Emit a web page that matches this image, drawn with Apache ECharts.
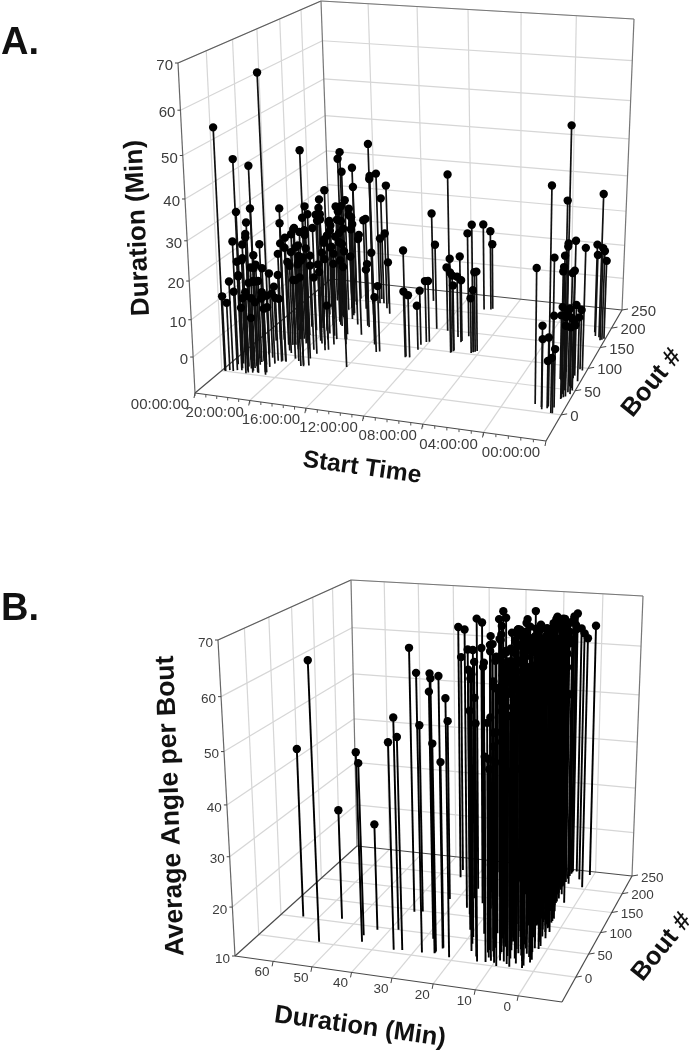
<!DOCTYPE html>
<html>
<head>
<meta charset="utf-8">
<title>Bout plots</title>
<script src="https://cdn.jsdelivr.net/npm/echarts@6/dist/echarts.min.js"></script>
<style>
  html, body { margin: 0; padding: 0; background: #fff; }
  #chart { width: 689px; height: 1050px; }
</style>
</head>
<body>
<div id="chart"></div>
<script>
// panel A: start time (h), bout number, duration (min)
const startHoursA = [
  23.8,22.2,23.4,22.1,18.6,19.8,17.9,15.6,18.2,19.8,
  17.8,15.9,18.2,18.2,16.7,19.5,18.6,23.3,21.5,22.4,
  20.4,20.5,20.6,19,20.1,19.4,17.6,20.6,17.9,22.9,
  22.2,23.4,22.1,21,22.2,23.6,22.2,20.7,21.5,21.6,
  22,22.3,19.1,20.6,20.7,19.3,21.2,19.9,21,16,
  19.2,20,17.2,18.4,17.3,18.7,12.7,23.4,22.7,23.2,
  23.7,23.5,22,21.9,21.8,22,22.2,21.9,20.9,22.5,
  22.7,21,20.7,21.2,21.1,19,21,18.9,18.4,21.4,
  20,20.3,18.6,20,18.7,19.4,20,19.9,21.4,19.2,
  21.6,19,20,20.7,20.2,20.8,20.7,17.2,17.4,17.5,
  14.8,15,12.7,12.4,12.3,12.4,12.2,12,14.4,12.3,
  9.9,11.3,9.8,11.4,9.9,9.8,10.3,9.8,9.6,8.4,
  10.1,9.6,9.5,8.3,8.2,8.4,8.5,9.8,2,1.5,
  1.4,1.1,1.1,0.7,0.6,1.4,0.7,1.1,0.4,0.5,
  0.5,1.1,1.4,0.2,0.3,1,0.3,0.2,1.6,0.7,
  1.3,0.6,0.5,0.3,0.8,0.1,0.6,0.4,0.6,0.5,
  0.9,0.2,0.2,0.7,0.6,0.7,1.3,0.6,
  23,22.8,22.5,22.3,22,21.7,21.5,21.2,22.6,23.1,
  22.4,21.9,21.4,21.1,20.8,23.2,22.9,22.1,21.6,21,
  21,20.5,20,19.6,19,20.8,21.3,20.4,19.7,21,
  20.5,20,19.3,21.5,19,18.5,18,18.4,19.8,20.4,
  21.8,21,20.2,19.4,18.8,19.9,19.2,20.9,18.9,19.6
];
const boutsA = [
  1,50,25,22,33,152,100,96,112,187,
  167,107,198,138,174,109,70,24,6,20,
  35,37,88,82,157,133,89,200,199,30,
  12,17,3,8,26,38,82,36,72,90,
  108,128,30,92,113,84,168,130,185,40,
  160,205,115,210,187,195,78,25,6,2,
  0,3,14,22,4,28,1,30,8,82,
  78,35,34,73,88,33,74,30,72,153,
  118,144,98,155,126,68,102,178,124,95,
  193,48,44,55,110,162,183,135,138,200,
  82,80,76,77,96,108,116,117,220,150,
  98,154,125,148,100,102,136,128,141,105,
  212,214,216,107,109,106,103,104,14,10,
  6,11,9,1,1,70,12,13,36,34,
  174,73,91,50,94,185,167,169,52,40,
  68,32,57,54,176,172,30,45,81,96,
  59,42,70,48,62,84,87,75,
  5,10,15,7,18,12,24,15,28,20,
  35,8,5,20,3,32,42,46,40,28,
  60,65,75,90,105,100,120,120,140,140,
  170,172,165,175,150,120,100,85,55,80,
  110,155,195,205,180,115,130,90,60,40
];
const durationsA = [
  53,63,44,43,47,36,42,45,36,31,
  30,36,29,30,28,31,32,31,34,29,
  32,28,25,27,21,21,29,18,22,25,
  26,24,25,25,20,17,18,20,18,20,
  20,17,23,20,20,25,17,18,12,24,
  16,10,18,9,13,6,20,14,20,15,
  11,9,18,18,15,13,11,8,8,9,
  6,8,8,13,12,19,9,15,3,9,
  11,12,15,7,13,17,11,6,8,19,
  10,21,20,16,8,5,2,9,7,3,
  9,6,9,8,3,6,8,8,17,15,
  39,11,15,9,13,12,8,8,20,26,
  16,14,10,13,13,8,6,9,26,12,
  9,9,3,5,16,8,6,46,58,41,
  31,26,25,30,24,16,17,16,25,27,
  20,25,21,22,14,13,15,13,10,7,
  9,11,8,8,6,4,7,6,
  12,16,10,21,14,9,17,11,8,6,
  12,5,19,7,13,9,11,7,14,10,
  22,24,23,26,22,27,23,25,24,20,
  20,23,19,16,21,20,24,18,18,15,
  15,14,14,15,17,16,15,13,12,13
];

// panel B: duration (min), bout number, average angle
const durationsB = [
  64,54,54,43,44,45,35,38,33,38,
  28,25,25,24,28,21,32,36,25,24,
  34,35,26,27,28,25,25,22,22,17,
  17,18,17,15,12,8,9,5,6,3,
  1,1,24,26,23,22,21,18,17,19,
  18,17,15,14,22,23,21,19,20,16,
  16,16,13,16,14,13,10,9,3,11,
  12,6,10,3,8,12,4,7,2,10,
  5,13,3,8,6,11,2,9,4,14,
  7,3,10,5,12,2,8,4,11,6,
  14,2,9,5,12,3,7,10,4,13,
  3,8,5,11,3,7,14,5,4,9,
  12,4,7,5,10,6,13,5,8,5,
  11,7,6,10,5,8,13,7,6,11,
  6,8,14,6,9,7,7,11,6,7,
  9,14,6,8,11,8,7,13,9,6,
  15,8,12,6,
  18,14,20,10,16,12,19,8,15,21,
  10,17,13,20,9,16,12,19,10,15,
  18,9,13,20,11,16,10,19,7,14,
  18,10,12,16,8,11,19,14,9,17,
  6,14,9,17,5,11,15,3,8,13,
  6,18,10,4,12,16,7,20,9,14,
  6,11,17,8,13,5,10,
  9,3,12,7,5,9,2,11,6,4,
  8,13,3,10,6,4,9,12,3,7,
  10,5,13,3,8,11,6,2,9,5,
  12,7,4,10,3,8,14,5,11,3,
  7,13,4,9,6,11,3,7,13,5,
  9,3,11,6,15,
  7,5,9,6,8,7,10,6,8,7,
  9,6,8,7,10,5,8,6,9,5,
  7,10,6,8,5,9,7,5,6,9,
  7,4,8,4,6
];
const boutsB = [
  52,2,58,44,14,28,6,50,8,95,
  8,10,12,22,40,6,136,98,14,24,
  195,215,120,170,200,220,235,205,190,245,
  210,228,180,195,215,190,240,210,245,225,
  205,240,105,145,135,100,70,80,65,55,
  40,25,15,5,150,165,175,185,125,115,
  140,90,75,155,170,200,180,222,160,10,
  30,3,7,9,12,16,18,20,23,27,
  29,32,35,37,42,44,47,50,52,57,
  59,62,64,67,69,72,74,77,79,82,
  84,87,89,92,94,97,99,102,104,107,
  109,112,114,117,119,122,124,127,129,132,
  134,137,139,142,144,147,149,152,154,157,
  159,162,164,167,169,172,174,177,179,182,
  184,187,189,192,194,197,199,202,204,207,
  209,212,214,217,219,221,224,226,229,231,
  234,237,239,242,
  151,153,156,158,161,163,166,168,171,173,
  176,178,181,183,186,188,191,193,196,198,
  201,203,206,208,211,213,216,218,220,223,
  225,227,230,232,233,236,238,241,243,244,
  101,103,105,106,108,110,111,113,116,118,
  120,121,123,126,128,130,131,133,135,136,
  138,140,141,143,145,146,148,
  1,4,6,8,11,13,17,19,21,22,
  24,26,28,31,33,34,36,38,39,41,
  43,45,46,48,49,51,53,54,56,58,
  60,61,63,65,66,68,70,71,73,75,
  76,78,80,81,83,85,86,88,90,91,
  93,95,96,98,100,
  247,246,249,238,235,228,225,223,219,213,
  208,201,196,191,186,181,176,171,166,161,
  156,151,146,141,136,131,126,121,116,111,
  106,101,96,91,86
];
const anglesB = [
  45,65,33,32,48,45,51,53,52,64,
  64,64,63,63,59,60,48,49,51,47,
  64,57,67,67,65,65,66,66,65,66,
  65,65,65,65,64,66,65,66,66,63,
  63,64,64,62,63,62,62,63,63,62,
  62,57,60,56,63,64,64,64,63,63,
  63,63,62,64,64,64,64,64,65,57,
  43,58,52,60,62,49,57,63,55,60,
  62,46,59,64,53,61,58,63,50,60,
  64,57,61,44,63,60,55,64,59,62,
  48,60,64,56,62,63,52,65,60,57,
  64,61,47,63,59,65,54,62,64,60,
  65,58,63,50,64,61,66,60,63,56,
  65,60,64,52,62,66,61,58,64,60,
  65,55,63,61,66,59,64,62,57,65,
  60,64,51,66,62,60,65,58,63,66,
  61,64,57,63,
  62,58,64,60,63,55,61,64,60,63,
  58,65,62,57,64,61,65,60,63,56,
  64,62,65,59,63,60,65,62,59,64,
  61,65,60,63,58,65,62,60,64,61,
  63,60,57,63,61,65,59,62,64,60,
  63,56,65,60,63,61,58,64,62,66,
  60,63,57,65,61,64,59,
  55,60,50,62,48,60,52,63,58,45,
  61,55,62,57,63,54,60,47,62,58,
  63,60,52,62,56,63,61,58,63,50,
  62,60,63,56,61,64,59,62,64,57,
  63,60,64,58,63,60,64,55,63,61,
  64,58,63,60,64,
  65,63,61,64,60,63,66,61,65,60,
  66,63,60,66,62,65,60,64,66,61,
  65,60,66,62,64,60,65,62,66,60,
  64,61,65,62,60
];

// tick values and labels
const timeTicks = [24, 20, 16, 12, 8, 4, 0];
const timeLabels = ['00:00:00', '20:00:00', '16:00:00', '12:00:00', '08:00:00', '04:00:00', '00:00:00'];
const boutTicks = [0, 50, 100, 150, 200, 250];
const durationTicksA = [0, 10, 20, 30, 40, 50, 60, 70];
const durationTicksB = [60, 50, 40, 30, 20, 10, 0];
const angleTicks = [10, 20, 30, 40, 50, 60, 70];

// unit square to quad, corners in order (0,0) (1,0) (1,1) (0,1)
function quadMap(q) {
  const [p0, p1, p2, p3] = q;
  const dx1 = p1[0] - p2[0], dx2 = p3[0] - p2[0], sx = p0[0] - p1[0] + p2[0] - p3[0];
  const dy1 = p1[1] - p2[1], dy2 = p3[1] - p2[1], sy = p0[1] - p1[1] + p2[1] - p3[1];
  const den = dx1 * dy2 - dx2 * dy1;
  const g = (sx * dy2 - dx2 * sy) / den;
  const h = (dx1 * sy - sx * dy1) / den;
  const a = p1[0] - p0[0] + g * p1[0], b = p3[0] - p0[0] + h * p3[0];
  const d = p1[1] - p0[1] + g * p1[1], e = p3[1] - p0[1] + h * p3[1];
  return (u, v) => {
    const w = g * u + h * v + 1;
    return [(a * u + b * v + p0[0]) / w, (d * u + e * v + p0[1]) / w];
  };
}

function buildPanel(cfg, idx) {
  const floorMap = quadMap(cfg.floor);
  const topMap = quadMap(cfg.top);
  const zr = cfg.zRange, k = cfg.zPersp;

  // x and bout go through the hidden cartesian axes, height through linearMap
  function project(api, cs, x, bout, z) {
    const p = api.coord([x, bout]);
    const u = (p[0] - cs.x) / cs.width;
    const v = 1 - (p[1] - cs.y) / cs.height;
    const w0 = echarts.number.linearMap(z, zr, [0, 1], false);
    const w = w0 * (1 + k) / (1 + k * w0);
    const f = floorMap(u, v), t = topMap(u, v);
    return [f[0] + (t[0] - f[0]) * w, f[1] + (t[1] - f[1]) * w];
  }

  function seg(a, b, color, width) {
    return {
      type: 'line',
      shape: { x1: a[0], y1: a[1], x2: b[0], y2: b[1] },
      style: { stroke: color, lineWidth: width }
    };
  }
  function label(p, text, align) {
    return {
      type: 'text',
      style: { x: p[0], y: p[1], text: text, fill: '#3c3c3c', font: cfg.tickFont, align: align, verticalAlign: 'middle' }
    };
  }

  const renderFrame = (params, api) => {
    const cs = params.coordSys;
    const P = (x, b, z) => project(api, cs, x, b, z);
    const [x0, x1] = cfg.xExtent, [b0, b1] = [-50, 250], [z0, z1] = zr;
    const kids = [];
    const grid = '#d6d6d6';
    // walls and floor
    cfg.zTicks.forEach(z => {
      if (z === z0) return;
      kids.push(seg(P(x0, b0, z), P(x0, b1, z), grid, 1.2));
      kids.push(seg(P(x0, b1, z), P(x1, b1, z), grid, 1.2));
    });
    cfg.xTicks.forEach(x => {
      if (x === x0 || x === x1) return;
      kids.push(seg(P(x, b1, z0), P(x, b1, z1), grid, 1.2));
      kids.push(seg(P(x, b0, z0), P(x, b1, z0), grid, 1.2));
    });
    boutTicks.forEach(b => {
      if (b === b1) return;
      kids.push(seg(P(x0, b, z0), P(x0, b, z1), grid, 1.2));
      kids.push(seg(P(x0, b, z0), P(x1, b, z0), grid, 1.2));
    });
    // box edges
    [[x0, b0, z1, x0, b1, z1, '#5c5c5c'], [x0, b1, z1, x1, b1, z1, '#777'],
     [x1, b1, z1, x1, b1, z0, '#777'], [x0, b1, z0, x0, b1, z1, '#777'],
     [x0, b0, z0, x0, b0, z1, '#666'], [x0, b0, z0, x1, b0, z0, '#4a4a4a'],
     [x1, b0, z0, x1, b1, z0, '#4a4a4a'], [x1, b1, z0, x0, b1, z0, '#4a4a4a'],
     [x0, b1, z0, x0, b0, z0, '#4a4a4a']].forEach(e => {
      kids.push(seg(P(e[0], e[1], e[2]), P(e[3], e[4], e[5]), e[6], 1.2));
    });
    // tick marks and labels
    cfg.xTicks.forEach((x, i) => {
      const p = P(x, b0, z0);
      kids.push(seg(p, [p[0] - 1, p[1] + 5], '#444', 1));
      if (cfg.xLabels[i] !== '') {
        kids.push(label([p[0] + cfg.xLabelOff[0], p[1] + cfg.xLabelOff[1]], cfg.xLabels[i], 'center'));
      }
    });
    if (cfg.xMinorStep) {
      for (let x = x0; x > x1; x -= cfg.xMinorStep) {
        const p = P(x, b0, z0);
        kids.push(seg(p, [p[0], p[1] + 3], '#555', 1));
      }
    }
    boutTicks.forEach(b => {
      const p = P(x1, b, z0);
      kids.push(seg(p, [p[0] + 6, p[1] - 1], '#444', 1));
      kids.push(label([p[0] + 9, p[1] + 2], String(b), 'left'));
    });
    cfg.zTicks.forEach(z => {
      const p = P(x0, b0, z);
      kids.push(seg(p, [p[0] - 3, p[1]], '#444', 1));
      kids.push(label([p[0] - 5, p[1] + 3], String(z), 'right'));
    });
    return { type: 'group', children: kids };
  };

  const renderStem = (params, api) => {
    const cs = params.coordSys;
    const x = api.value(0), b = api.value(1), z = api.value(2);
    return seg(project(api, cs, x, b, zr[0]), project(api, cs, x, b, z), cfg.stemColor, cfg.stemWidth);
  };
  const renderDot = (params, api) => {
    const cs = params.coordSys;
    const p = project(api, cs, api.value(0), api.value(1), api.value(2));
    return { type: 'circle', shape: { cx: p[0], cy: p[1], r: 4.2 }, style: { fill: '#000' } };
  };

  const common = {
    type: 'custom', xAxisIndex: idx, yAxisIndex: idx, silent: true,
    animation: false, clip: false, encode: { x: 0, y: 1 }
  };
  return [
    Object.assign({}, common, { name: cfg.name + ' frame', data: [[cfg.xExtent[0], -50]], renderItem: renderFrame }),
    Object.assign({}, common, { name: cfg.name + ' stems', data: cfg.rows, renderItem: renderStem }),
    Object.assign({}, common, { name: cfg.name + ' dots', data: cfg.rows, renderItem: renderDot })
  ];
}

const panelA = {
  name: 'A',
  rows: startHoursA.map((t, i) => [t, boutsA[i], durationsA[i]]),
  floor: [[195, 393], [546, 441], [622, 310], [331, 279]],
  top: [[178, 63], [552, 96], [634, 19], [321, 1]],
  zRange: [-10, 70], zPersp: -0.144, stemWidth: 1.7, stemColor: '#111',
  xExtent: [24, 0], xTicks: timeTicks, xLabels: timeLabels, xLabelOff: [-35, 12], xMinorStep: 0.8,
  zTicks: durationTicksA, tickFont: '15px "Liberation Sans"'
};
const panelB = {
  name: 'B',
  rows: durationsB.map((d, i) => [d, boutsB[i], anglesB[i]]),
  floor: [[235, 956], [562, 1002], [632, 876], [357, 846]],
  top: [[218, 640], [570, 669], [643, 596], [351, 580]],
  zRange: [10, 70], zPersp: -0.084, stemWidth: 1.9, stemColor: '#000',
  xExtent: [70, -10], xTicks: durationTicksB, xLabels: durationTicksB.map(String), xLabelOff: [-11, 11], xMinorStep: 0,
  zTicks: angleTicks, tickFont: '13.5px "Liberation Sans"'
};

function title(text, x, y, size, deg) {
  return {
    type: 'text', x: x, y: y, rotation: deg * Math.PI / 180, silent: true,
    style: { text: text, fill: '#111', font: 'bold ' + size + 'px "Liberation Sans"', align: 'center', verticalAlign: 'middle' }
  };
}

const fullGrid = { left: 0, top: 0, width: 689, height: 1050, show: false };
const hiddenAxis = extra => Object.assign({ type: 'value', show: false, scale: true }, extra);

const myChart = echarts.init(document.getElementById('chart'));
myChart.setOption({
  animation: false,
  backgroundColor: '#fff',
  grid: [fullGrid, fullGrid],
  xAxis: [
    hiddenAxis({ gridIndex: 0, min: 0, max: 24, inverse: true }),
    hiddenAxis({ gridIndex: 1, min: -10, max: 70, inverse: true })
  ],
  yAxis: [
    hiddenAxis({ gridIndex: 0, min: -50, max: 250 }),
    hiddenAxis({ gridIndex: 1, min: -50, max: 250 })
  ],
  graphic: [
    title('A.', 20, 44, 38, 0),
    title('B.', 20, 610, 38, 0),
    title('Duration (Min)', 138, 228, 26, 92.5),
    title('Start Time', 362, 468, 24.5, -8),
    title('Bout #', 652, 383, 25.5, 51),
    title('Average Angle per Bout', 171, 806, 26.5, 92),
    title('Duration (Min)', 360, 1027, 25.5, -8),
    title('Bout #', 662, 947, 25.5, 51)
  ],
  series: buildPanel(panelA, 0).concat(buildPanel(panelB, 1))
});
</script>
</body>
</html>
